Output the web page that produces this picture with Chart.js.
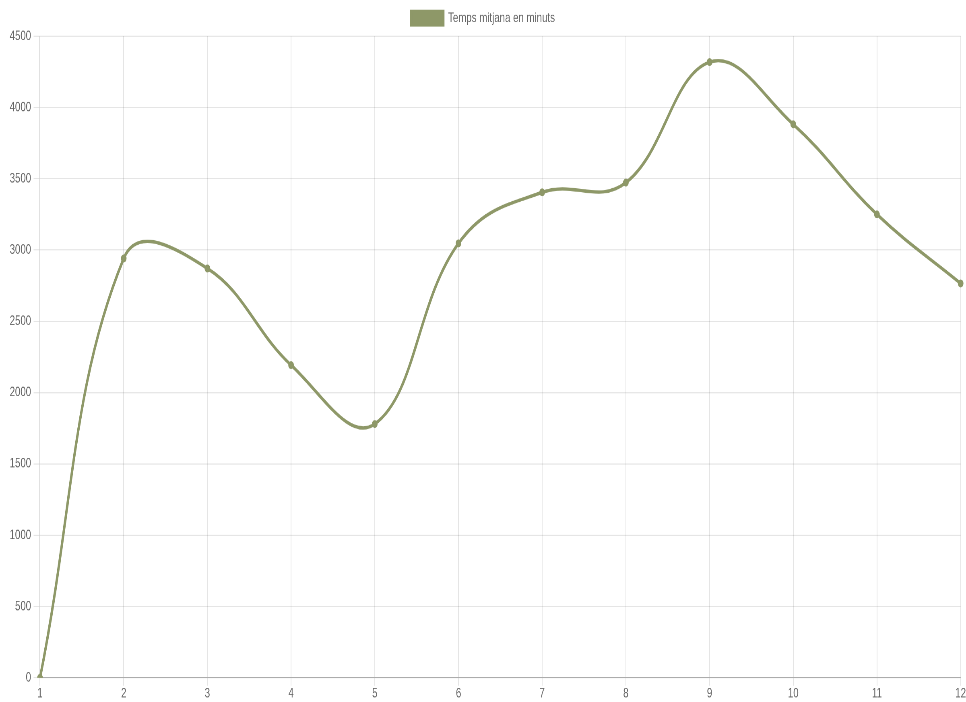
<!DOCTYPE html>
<html>
<head>
<meta charset="utf-8">
<script src="https://cdn.jsdelivr.net/npm/chart.js@4.4.0/dist/chart.umd.min.js"></script>
<style>
html,body{margin:0;padding:0;background:#fff;overflow:hidden;}
#wrap{position:absolute;left:0;top:0;width:1200px;height:621px;transform:scale(0.805,1.1304);transform-origin:0 0;}
</style>
</head>
<body>
<div id="wrap"><canvas id="c"></canvas></div>
<script>
const categories = ['1','2','3','4','5','6','7','8','9','10','11','12'];
const seriesLabel = 'Temps mitjana en minuts';
const seriesValues = [0, 2941, 2871, 2193, 1780, 3047, 3405, 3473, 4318, 3882, 3250, 2766];
const yTicks = [0, 500, 1000, 1500, 2000, 2500, 3000, 3500, 4000, 4500];

const olive = '#8e9868';
Chart.defaults.font.family = "'Helvetica Neue', Helvetica, Arial, 'Liberation Sans', sans-serif";
Chart.defaults.font.size = 12;
Chart.defaults.color = '#666';

new Chart(document.getElementById('c'), {
  type: 'line',
  data: {
    labels: categories,
    datasets: [{
      label: seriesLabel,
      data: seriesValues,
      borderColor: olive,
      backgroundColor: olive,
      pointBackgroundColor: olive,
      pointBorderColor: olive,
      borderWidth: 3,
      pointRadius: 3,
      pointBorderWidth: 1,
      tension: 0.4,
      fill: false
    }]
  },
  options: {
    responsive: true,
    maintainAspectRatio: false,
    animation: false,
    devicePixelRatio: 2,
    plugins: {
      legend: {
        display: true,
        position: 'top',
        labels: { boxWidth: 40, color: '#666' }
      },
      tooltip: { enabled: false }
    },
    scales: {
      x: {
        grid: { color: 'rgba(0,0,0,0.1)', tickLength: 7 },
        border: { color: 'rgba(0,0,0,0.25)' },
        ticks: { color: '#666', maxRotation: 0, padding: 0 }
      },
      y: {
        min: 0,
        max: 4500,
        afterBuildTicks: (axis) => { axis.ticks = yTicks.map(v => ({ value: v })); },
        afterFit: (axis) => { axis.width = 49.7; },
        grid: { color: 'rgba(0,0,0,0.1)', tickLength: 8 },
        border: { color: 'rgba(0,0,0,0.1)' },
        ticks: { color: '#666', callback: (v) => String(v) }
      }
    }
  }
});
</script>
</body>
</html>
